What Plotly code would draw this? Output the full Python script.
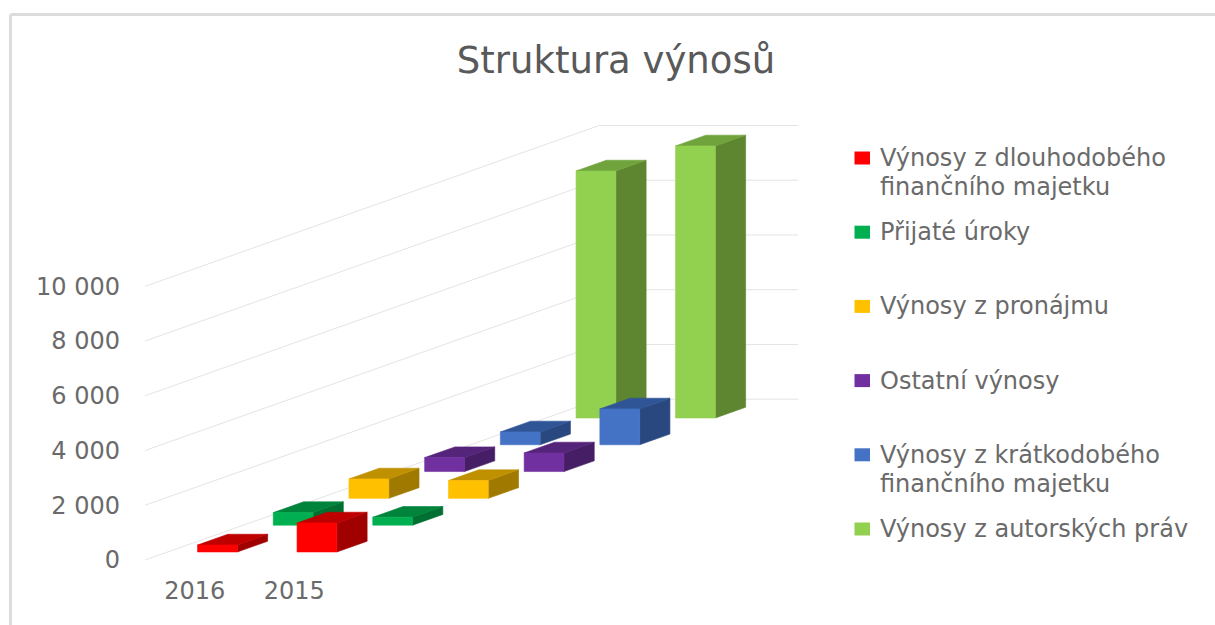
import plotly.graph_objects as go

TITLE = "Struktura výnosů"
YEARS = ["2016", "2015"]
SERIES = [
    "Výnosy z dlouhodobého finančního majetku",
    "Přijaté úroky",
    "Výnosy z pronájmu",
    "Ostatní výnosy",
    "Výnosy z krátkodobého finančního majetku",
    "Výnosy z autorských práv",
]
LEGEND_LINES = [
    ["Výnosy z dlouhodobého", "finančního majetku"],
    ["Přijaté úroky"],
    ["Výnosy z pronájmu"],
    ["Ostatní výnosy"],
    ["Výnosy z krátkodobého", "finančního majetku"],
    ["Výnosy z autorských práv"],
]
V_2016 = [255, 460, 710, 510, 470, 9025]
V_2015 = [1060, 290, 650, 680, 1310, 9940]
Y_TICKS = [0, 2000, 4000, 6000, 8000, 10000]
Y_LABELS = ["0", "2 000", "4 000", "6 000", "8 000", "10 000"]
FRONT = ["#FF0000", "#00B050", "#FFC000", "#7030A0", "#4472C4", "#92D050"]
TOP = ["#BF0000", "#00843C", "#BF9000", "#54247A", "#2F5597", "#70A33C"]
SIDE = ["#A00000", "#006F32", "#A07A00", "#461E66", "#2A4880", "#5E8530"]

W, H = 1215, 625
L, B = 121, 51   # plot area left edge and bottom gap, in pixels
PW, PH = W - L, H - B


def px(x):
    return (x - L) / PW


def py(y):
    return (PH - y) / PH


# oblique projection: one series step moves right (in year-slot units) and up (in value units)
X_UNIT = 99.5
Y_UNIT = 0.02737
SHEAR_X = 75.7 / X_UNIT
SHEAR_Y = 26.8 / Y_UNIT
BAR_W = 0.4
BAR_D = 0.4
GAP = 0.3


def proj(s, j, v):
    return j + s * SHEAR_X, v + s * SHEAR_Y


def face(points, color, name):
    xs, ys = zip(*[proj(*p) for p in points])
    return go.Scatter(x=list(xs) + [xs[0]], y=list(ys) + [ys[0]], mode="lines", fill="toself",
                      fillcolor=color, line=dict(width=0.6, color=color), showlegend=False, name=name,
                      hoverinfo="skip")


fig = go.Figure()

# walls: grid lines along the side wall and the back wall
n = len(SERIES)
for t in Y_TICKS:
    pts = [proj(0, 0, t), proj(n, 0, t), proj(n, len(YEARS), t)]
    fig.add_trace(go.Scatter(x=[p[0] for p in pts], y=[p[1] for p in pts], mode="lines",
                             line=dict(color="#E4E4E4", width=1), showlegend=False, hoverinfo="skip"))

# bars, back to front
for i in range(n - 1, -1, -1):
    for j, vals in ((1, V_2015), (0, V_2016)):
        v = vals[i]
        s0, s1 = i + GAP, i + GAP + BAR_D
        j0, j1 = j + GAP, j + GAP + BAR_W
        g = SERIES[i]
        fig.add_trace(face([(s0, j1, 0), (s1, j1, 0), (s1, j1, v), (s0, j1, v)], SIDE[i], g))
        fig.add_trace(face([(s0, j0, v), (s0, j1, v), (s1, j1, v), (s1, j0, v)], TOP[i], g))
        fig.add_trace(face([(s0, j0, 0), (s0, j1, 0), (s0, j1, v), (s0, j0, v)], FRONT[i], g))

TXT = "#6A6A6A"
FONT = "DejaVu Sans"
FS = 24

# legend: swatch on the first line of each entry, entries on an even step
shapes = []
annotations = []
LEG_TOP, LEG_STEP, LINE_H = 158, 74.2, 29
for i, lines in enumerate(LEGEND_LINES):
    yc = LEG_TOP + i * LEG_STEP
    shapes.append(dict(type="rect", xref="paper", yref="paper", x0=px(854.5), x1=px(870),
                       y0=py(yc - 6.5), y1=py(yc + 6.5), fillcolor=FRONT[i], line=dict(width=0)))
    for k, line in enumerate(lines):
        annotations.append(dict(text=line, xref="paper", yref="paper", x=px(878), y=py(yc + k * LINE_H),
                                xanchor="left", yanchor="middle", showarrow=False,
                                font=dict(family=FONT, size=FS, color=TXT)))

# outer frame, top and left
shapes.append(dict(type="line", xref="paper", yref="paper", x0=px(10.5), x1=1, y0=py(14.5), y1=py(14.5),
                   line=dict(color="#DCDCDC", width=3)))
shapes.append(dict(type="line", xref="paper", yref="paper", x0=px(10.5), x1=px(10.5), y0=py(H), y1=py(14.5),
                   line=dict(color="#DCDCDC", width=3)))

fig.update_layout(
    width=W, height=H, autosize=False,
    margin=dict(l=L, r=0, t=0, b=B),
    paper_bgcolor="white", plot_bgcolor="white",
    font=dict(family=FONT, color=TXT, size=FS),
    showlegend=False,
    title=dict(text=TITLE, x=616 / W, y=1 - 60 / H, xanchor="center", yanchor="middle",
               font=dict(family=FONT, size=37, color="#595959")),
    xaxis=dict(range=[(L - 145) / X_UNIT, (W - 145) / X_UNIT], showgrid=False, zeroline=False,
               showline=False, tickvals=[0.5, 1.5], ticktext=YEARS, ticks="",
               tickfont=dict(size=FS, color=TXT), fixedrange=True),
    yaxis=dict(range=[(560 - PH) / Y_UNIT, 560 / Y_UNIT], showgrid=False, zeroline=False,
               showline=False, tickvals=Y_TICKS, ticktext=Y_LABELS, ticks="",
               tickfont=dict(size=FS, color=TXT), fixedrange=True),
    shapes=shapes,
    annotations=annotations,
)
fig.write_html(
    "out.html",
    config={"displayModeBar": False},
    post_script="document.body.style.margin='0';document.documentElement.style.overflow='hidden';",
)
